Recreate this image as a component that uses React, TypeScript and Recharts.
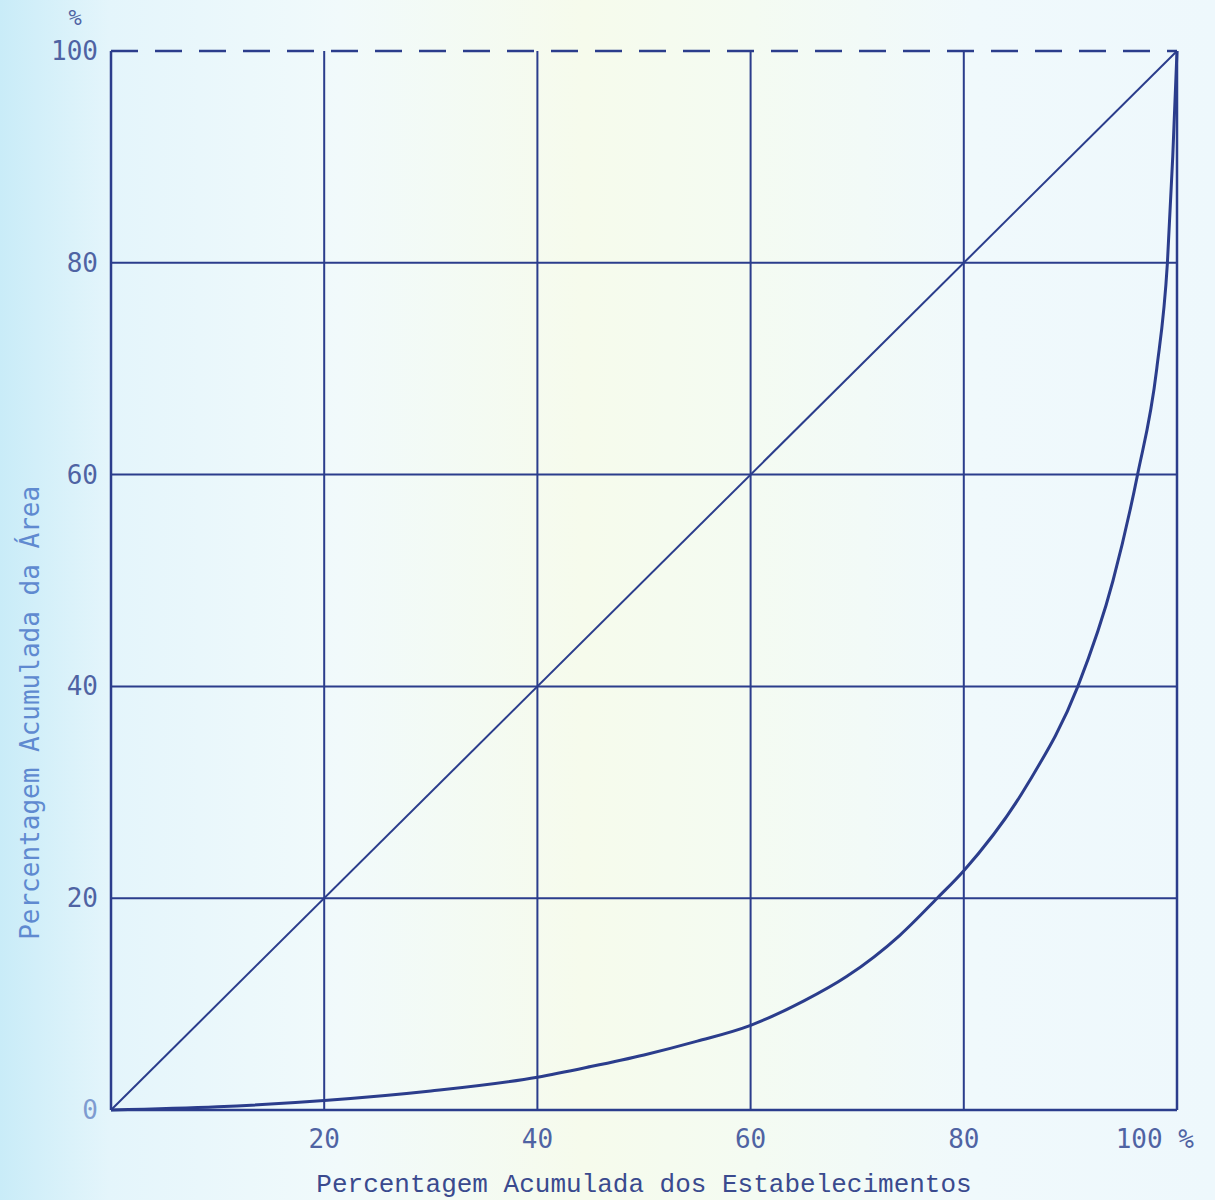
import React from "react";
import { LineChart, Line, XAxis, YAxis, ReferenceLine } from "recharts";

// Curva de Lorenz
const estabPct = [0, 10, 20, 30, 40, 45, 50, 55, 60, 65, 69, 74, 77.5, 80, 86, 90.7, 94, 96.3, 98.1, 99.1, 99.6, 100];
const areaPct = [0, 0.3, 0.9, 1.8, 3.1, 4.1, 5.2, 6.5, 8.0, 10.3, 12.6, 16.5, 20, 22.6, 30.8, 40, 50, 60, 70, 80, 90, 100];

// linha de igualdade perfeita
const equalityX = [0, 100];
const equalityY = [0, 100];

const xTicks = [20, 40, 60, 80, 100];
const yTicks = [0, 20, 40, 60, 80, 100];
const gridValues = [20, 40, 60, 80];

const xTitle = "Percentagem Acumulada dos Estabelecimentos";
const yTitle = "Percentagem Acumulada da Área";

const INK = "#2b3d8c";
const TICK_INK = "#4f63a3";

const lorenzData = estabPct.map((x, i) => ({ x, y: areaPct[i] }));
const equalityData = equalityX.map((x, i) => ({ x, y: equalityY[i] }));

const XTick = (props: any) => {
  const { x, y, payload } = props;
  const last = payload.value === 100;
  return (
    <text
      x={last ? x + 17 : x}
      y={y}
      dy="0.71em"
      textAnchor={last ? "end" : "middle"}
      fill={TICK_INK}
      fontSize={26}
      fontFamily="DejaVu Sans Mono"
    >
      {last ? "100 %" : payload.value}
    </text>
  );
};

const YTick = (props: any) => {
  const { x, y, payload } = props;
  return (
    <g>
      {payload.value === 100 && (
        <text
          x={x - 23}
          y={y - 34}
          textAnchor="middle"
          dominantBaseline="central"
          fill={TICK_INK}
          fontSize={22}
          fontFamily="DejaVu Sans Mono"
        >
          %
        </text>
      )}
      <text
        x={x}
        y={y}
        textAnchor="end"
        dominantBaseline="central"
        fill={payload.value === 0 ? "#7e9bd0" : TICK_INK}
        fontSize={26}
        fontFamily="DejaVu Sans Mono"
      >
        {payload.value}
      </text>
    </g>
  );
};

const YTitle = (props: any) => {
  const { viewBox } = props;
  const cx = viewBox.x + 30;
  const cy = viewBox.y + viewBox.height * 0.625;
  return (
    <text
      x={cx}
      y={cy}
      transform={`rotate(-90 ${cx} ${cy})`}
      textAnchor="middle"
      dominantBaseline="central"
      fill="#5f8ad0"
      fontSize={26}
      fontFamily="DejaVu Sans Mono"
    >
      {yTitle}
    </text>
  );
};

const App = () => {
  return (
    <div
      style={{
        position: "absolute",
        left: 0,
        top: 0,
        width: 1215,
        height: 1200,
        background:
          "linear-gradient(to right, #c9ecf8 0%, #e4f5fb 9%, #f1fafb 28%, #f6fbec 48%, #f4fbf2 62%, #f0f9fc 80%, #eef8fc 100%)",
      }}
    >
      <LineChart
        width={1215}
        height={1200}
        margin={{ top: 51, right: 38, bottom: 0, left: 0 }}
      >
        <XAxis
          type="number"
          dataKey="x"
          domain={[0, 100]}
          ticks={xTicks}
          height={90}
          tickSize={0}
          tickMargin={20}
          tickLine={false}
          axisLine={{ stroke: INK, strokeWidth: 2.5 }}
          tick={<XTick />}
          label={{
            value: xTitle,
            position: "insideBottom",
            offset: 8,
            fill: "#3a4a8e",
            fontSize: 26,
            fontFamily: "Liberation Mono",
          }}
        />
        <YAxis
          type="number"
          domain={[0, 100]}
          ticks={yTicks}
          width={111}
          tickSize={0}
          tickMargin={13}
          tickLine={false}
          axisLine={{ stroke: INK, strokeWidth: 2.5 }}
          tick={<YTick />}
          label={<YTitle />}
        />
        {gridValues.map((v) => (
          <ReferenceLine key={"h" + v} y={v} stroke={INK} strokeWidth={2} />
        ))}
        {gridValues.map((v) => (
          <ReferenceLine key={"v" + v} x={v} stroke={INK} strokeWidth={2} />
        ))}
        <ReferenceLine y={100} stroke={INK} strokeWidth={2.5} strokeDasharray="27 17" />
        <ReferenceLine x={100} stroke={INK} strokeWidth={2.5} />
        <Line
          data={equalityData}
          dataKey="y"
          type="linear"
          stroke={INK}
          strokeWidth={2}
          dot={false}
          isAnimationActive={false}
        />
        <Line
          data={lorenzData}
          dataKey="y"
          type="monotone"
          stroke={INK}
          strokeWidth={3}
          dot={false}
          isAnimationActive={false}
        />
      </LineChart>
    </div>
  );
};

export default App;
